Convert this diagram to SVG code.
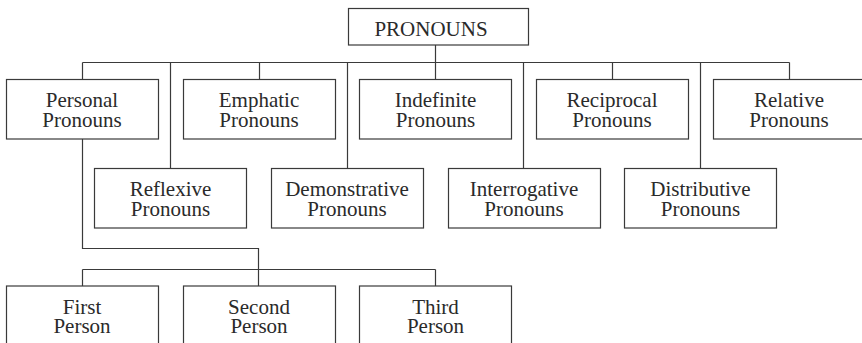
<svg xmlns="http://www.w3.org/2000/svg" width="862" height="343" viewBox="0 0 862 343">
<style>
.box{fill:#fff;stroke:#3a3a3a;stroke-width:1.2}
.ln{fill:none;stroke:#3a3a3a;stroke-width:1.2}
.t{font-size:21px;fill:#2a2a2a;text-anchor:middle}
</style>
<rect width="862" height="343" fill="#fff"/>
<g id="connectors">
<path class="ln" d="M435.5 45V79M82.5 62.5H789.5M82.5 62.5V79M259.5 62.5V79M612.5 62.5V79M789.5 62.5V79M170.5 62.5V168M347.5 62.5V168M523.5 62.5V168M700.5 62.5V168"/>
<path class="ln" d="M82.5 139V248.5H258.5V286M82.5 269.5H435.5M82.5 269.5V286M435.5 269.5V286"/>
</g>
<g class="t" font-family="Liberation Serif, Times New Roman, serif">
<g id="pronouns"><rect class="box" x="348.5" y="8.5" width="180" height="36.5"/><text x="431" y="36">PRONOUNS</text></g>
<g id="personal"><rect class="box" x="6.5" y="79.5" width="152" height="59.5"/><text x="82" y="106.5">Personal<tspan x="82" dy="20">Pronouns</tspan></text></g>
<g id="emphatic"><rect class="box" x="183.5" y="79.5" width="152" height="59.5"/><text x="259" y="106.5">Emphatic<tspan x="259" dy="20">Pronouns</tspan></text></g>
<g id="indefinite"><rect class="box" x="359.5" y="79.5" width="152" height="59.5"/><text x="435.5" y="106.5">Indefinite<tspan x="435.5" dy="20">Pronouns</tspan></text></g>
<g id="reciprocal"><rect class="box" x="536.5" y="79.5" width="152" height="59.5"/><text x="612" y="106.5">Reciprocal<tspan x="612" dy="20">Pronouns</tspan></text></g>
<g id="relative"><rect class="box" x="713.5" y="79.5" width="153" height="59.5"/><text x="789" y="106.5">Relative<tspan x="789" dy="20">Pronouns</tspan></text></g>
<g id="reflexive"><rect class="box" x="94.5" y="168.5" width="152" height="59.5"/><text x="170.5" y="195.5">Reflexive<tspan x="170.5" dy="20">Pronouns</tspan></text></g>
<g id="demonstrative"><rect class="box" x="271.5" y="168.5" width="152" height="59.5"/><text x="347" y="195.5">Demonstrative<tspan x="347" dy="20">Pronouns</tspan></text></g>
<g id="interrogative"><rect class="box" x="448.5" y="168.5" width="152" height="59.5"/><text x="524" y="195.5">Interrogative<tspan x="524" dy="20">Pronouns</tspan></text></g>
<g id="distributive"><rect class="box" x="624.5" y="168.5" width="152" height="59.5"/><text x="700.5" y="195.5">Distributive<tspan x="700.5" dy="20">Pronouns</tspan></text></g>
<g id="first"><rect class="box" x="6.5" y="286" width="152" height="62"/><text x="82" y="313.5">First<tspan x="82" dy="19.5">Person</tspan></text></g>
<g id="second"><rect class="box" x="183.5" y="286" width="152" height="62"/><text x="259" y="313.5">Second<tspan x="259" dy="19.5">Person</tspan></text></g>
<g id="third"><rect class="box" x="359.5" y="286" width="152" height="62"/><text x="435.5" y="313.5">Third<tspan x="435.5" dy="19.5">Person</tspan></text></g>
</g>
</svg>
